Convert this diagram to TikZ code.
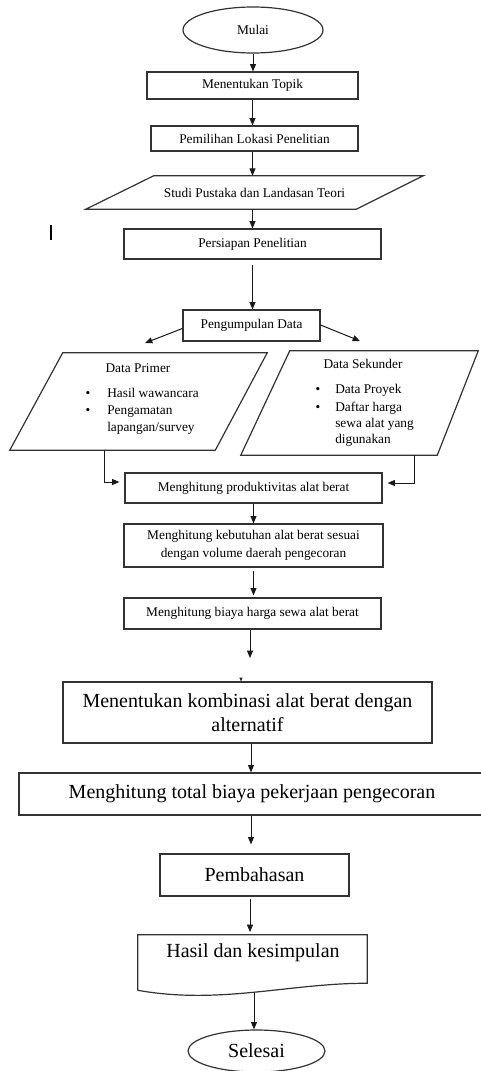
\documentclass[tikz,border=0pt]{standalone}
\usepackage{fontspec}
\setmainfont{Liberation Serif}
\usetikzlibrary{arrows.meta,calc,shapes.geometric}
\newcommand\fsmall{\fontsize{10pt}{13.5pt}\selectfont}
\newcommand\flarge{\fontsize{15pt}{17.5pt}\selectfont}
\begin{document}
\begin{tikzpicture}[x=0.75pt,y=-0.75pt,
  shp/.style={draw=black!80, line width=0.9pt},
  sbox/.style={shp, rectangle, inner sep=0pt, align=center, font=\fsmall},
  lbox/.style={sbox, font=\flarge},
  term/.style={shp, ellipse, inner sep=0pt},
  area/.style={rectangle, inner sep=0pt},
  txt/.style={inner sep=0pt, font=\fsmall},
  arr/.style={-{Triangle[length=5.5pt,width=4.5pt]}, line width=0.75pt, black!90}]
\useasboundingbox (0,0) rectangle (481,1071);
\fill[white] (0,0) rectangle (481,1071);

% top part
\node[term, font=\fsmall, minimum width=105pt, minimum height=34.5pt] (mulai) at (253,30) {Mulai};
\node[sbox, minimum width=158.25pt, minimum height=20.25pt] (topik) at (252.5,85.5) {Menentukan Topik};
\node[sbox, minimum width=155.25pt, minimum height=18.75pt] (lokasi) at (254.5,138.5) {Pemilihan Lokasi Penelitian};
\node[area, font=\fsmall, minimum width=252.75pt, minimum height=24.75pt] (studi) at (254.5,192.5) {Studi Pustaka dan Landasan Teori};
\draw[shp] ($(studi.north west)+(68,0)$) -- (studi.north east) -- ($(studi.south east)+(-67,0)$) -- (studi.south west) -- cycle;
\draw[line width=0.8pt] (51,225) -- (51,240);
\node[sbox, minimum width=192.75pt, minimum height=22.5pt] (persiapan) at (252.5,244) {Persiapan Penelitian};
\node[sbox, minimum width=102.75pt, minimum height=23.25pt] (kumpul) at (251.5,325.5) {Pengumpulan Data};

% Data Primer
\node[area, minimum width=192.75pt, minimum height=72.75pt] (primer) at (138.5,401.5) {};
\draw[shp] ($(primer.north west)+(53,0)$) -- (primer.north east) -- ($(primer.south east)+(-52,0)$) -- (primer.south west) -- cycle;
\node[txt, anchor=base] (primert) at (138,372.5) {Data Primer};
\node[txt, anchor=base] (pb1) at (88,397.5) {\textbullet};
\node[txt, anchor=base west] (p1) at (107,397.5) {Hasil wawancara};
\node[txt, anchor=base] (pb2) at (88,414.5) {\textbullet};
\node[txt, anchor=base west] (p2) at (107,414.5) {Pengamatan};
\node[txt, anchor=base west] (p3) at (107,431.5) {lapangan/survey};

% Data Sekunder
\node[area, minimum width=177.75pt, minimum height=78pt] (sekunder) at (359.5,403) {};
\draw[shp] ($(sekunder.north west)+(49,0)$) -- (sekunder.north east) -- ($(sekunder.south east)+(-41,0)$) -- (sekunder.south west) -- cycle;
\node[txt, anchor=base] (sekundert) at (363,368.5) {Data Sekunder};
\node[txt, anchor=base] (sb1) at (318,393.5) {\textbullet};
\node[txt, anchor=base west] (s1) at (335,393.5) {Data Proyek};
\node[txt, anchor=base] (sb2) at (318,411) {\textbullet};
\node[txt, anchor=base west] (s2) at (335,411) {Daftar harga};
\node[txt, anchor=base west] (s3) at (335,427.5) {sewa alat yang};
\node[txt, anchor=base west] (s4) at (335,443) {digunakan};

% middle boxes
\node[sbox, minimum width=192.75pt, minimum height=22.5pt] (prod) at (253.5,488) {Menghitung produktivitas alat berat};
\node[sbox, minimum width=194.25pt, minimum height=32.25pt] (keb) at (253.5,545.5) {Menghitung kebutuhan alat berat sesuai\\dengan volume daerah pengecoran};
\node[sbox, minimum width=192.75pt, minimum height=23.25pt] (biaya) at (252.5,613.5) {Menghitung biaya harga sewa alat berat};

% lower boxes
\node[lbox, minimum width=276.75pt, minimum height=45.75pt] (komb) at (247.5,712.5) {Menentukan kombinasi alat berat dengan\\alternatif};
\node[lbox, minimum width=349.5pt, minimum height=31.5pt] (total) at (252,794) {Menghitung total biaya pekerjaan pengecoran};
\node[lbox, minimum width=141.75pt, minimum height=31.5pt] (pemb) at (254.5,875) {Pembahasan};
\node[area, minimum width=171.75pt, minimum height=41.25pt] (hasil) at (252.5,962.5) {};
\draw[shp] (hasil.south west) -- (hasil.north west) -- (hasil.north east) -- ($(hasil.south east)+(0,-7)$)
  .. controls (290,983) and (220,1005) .. (hasil.south west);
\node[txt, font=\flarge] (hasilt) at (253,953) {Hasil dan kesimpulan};
\node[term, font=\flarge, minimum width=102.75pt, minimum height=31.5pt] (selesai) at (256.5,1051) {Selesai};

% connectors
\draw[arr] (mulai.south) -- (mulai.south |- topik.north);
\draw[arr] (topik.south) -- (topik.south |- lokasi.north);
\draw[arr] (lokasi.south -| topik.south) -- (topik.south |- studi.north);
\draw[arr] (studi.south -| topik.south) -- (topik.south |- persiapan.north);
\coordinate (ps) at ($(persiapan.south)+(0,5)$);
\draw[arr] (ps) -- (ps |- kumpul.north);
\coordinate (kl) at (145,343);
\coordinate (kr) at (360,341);
\draw[arr] ($(kumpul.west)+(0,3)$) -- (kl);
\draw[arr] ($(kumpul.east)+(0,-0.5)$) -- (kr);
\draw[arr] ($(primer.south west)+(95,0)$) |- ($(prod.west)+(-5,-6)$);
\draw[arr] ($(sekunder.south east)+(-64,0)$) |- ($(prod.east)+(5,-5)$);
\draw[arr] (prod.south) -- (prod.south |- keb.north);
\coordinate (kb) at ($(keb.south)+(0,3)$);
\draw[arr, shorten >=1.5pt] (kb) -- (kb |- biaya.north);
\coordinate (bend) at (250,658);
\draw[arr] (biaya.south -| bend) -- (bend);
\fill[black!85] (239.3,677.5) -- (242.7,677.5) -- (241,681.5) -- cycle;
\coordinate (k1) at ($(komb.south)+(3.5,0)$);
\draw[arr] (k1) -- (k1 |- total.north);
\draw[arr, shorten >=6.75pt] (total.south -| k1) -- (pemb.north -| k1);
\coordinate (pm) at ($(pemb.south)+(-4.5,2)$);
\draw[arr, shorten >=2pt] (pm) -- (pm |- hasil.north);
\coordinate (h1) at ($(hasil.south)+(1.5,3)$);
\draw[arr] (h1) -- (h1 |- selesai.north);
\end{tikzpicture}
\end{document}
